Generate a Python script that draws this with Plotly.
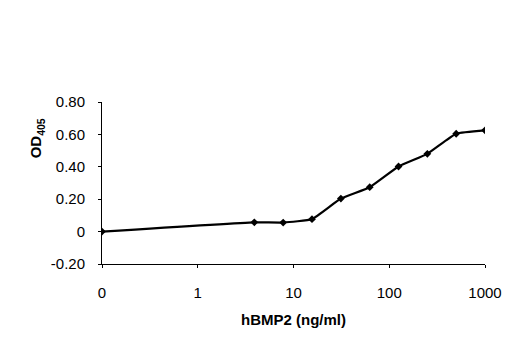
import plotly.graph_objects as go

# hBMP2 concentration (ng/ml); the 0 ng/ml control is placed at 0.1 on the log axis
conc_labels = ["0", "3.9", "7.8", "15.6", "31.25", "62.5", "125", "250", "500", "1000"]
conc_pos = [0.1, 3.9, 7.8, 15.6, 31.25, 62.5, 125, 250, 500, 1000]
od405 = [0.0, 0.057, 0.056, 0.077, 0.204, 0.274, 0.402, 0.480, 0.604, 0.625]

tick_vals = [0.1, 1, 10, 100, 1000]
tick_text = ["0", "1", "10", "100", "1000"]
y_ticks = [-0.2, 0.0, 0.2, 0.4, 0.6, 0.8]
y_text = ["-0.20", "0", "0.20", "0.40", "0.60", "0.80"]

font_family = "Liberation Sans, Arial, sans-serif"

fig = go.Figure()
fig.add_trace(go.Scatter(
    x=conc_pos, y=od405, text=conc_labels,
    mode="lines+markers",
    line=dict(color="black", width=2.2, shape="spline", smoothing=0.4),
    marker=dict(symbol="diamond", size=6, color="black"),
    hovertemplate="%{text} ng/ml: %{y:.3f}<extra></extra>",
    showlegend=False,
))

fig.update_layout(
    width=520, height=350,
    margin=dict(l=102, r=35, t=102, b=86),
    paper_bgcolor="white", plot_bgcolor="white",
    font=dict(family=font_family, size=15, color="black"),
    xaxis=dict(
        type="log", range=[-1, 3],
        tickvals=tick_vals, ticktext=tick_text,
        showgrid=False, zeroline=False,
        showline=True, linecolor="black", linewidth=1,
        ticks="outside", ticklen=3, tickcolor="black",
        ticklabelstandoff=12,
        title=dict(text="<b>hBMP2 (ng/ml)</b>", font=dict(size=15), standoff=14),
    ),
    yaxis=dict(
        range=[-0.2, 0.8],
        tickvals=y_ticks, ticktext=y_text,
        showgrid=False, zeroline=False,
        showline=True, linecolor="black", linewidth=1,
        ticks="outside", ticklen=3, tickcolor="black",
        ticklabelstandoff=10,
    ),
    annotations=[dict(
        text="<b>OD<sub>405</sub></b>",
        xref="paper", yref="paper",
        x=-0.17, y=0.775, xanchor="center", yanchor="middle",
        textangle=-90, showarrow=False, font=dict(size=15),
    )],
)

fig.write_html("out.html")
